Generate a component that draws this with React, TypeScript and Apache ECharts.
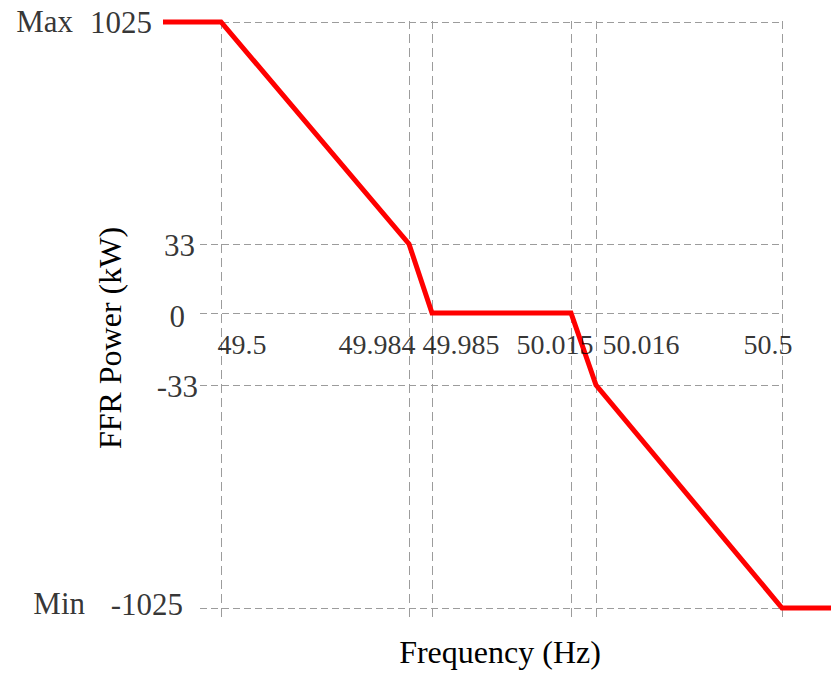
import React, { useEffect, useRef } from "react";
import * as echarts from "echarts";

// Breakpoint frequencies (Hz) shown on the horizontal axis
const frequencyLabels = ["49.5", "49.984", "49.985", "50.015", "50.016", "50.5"];
// The reference axis is schematic (not to scale): horizontal slot of each breakpoint
const frequencySlots = [21, 209, 232, 371, 396, 582];

// Power levels (kW) shown on the vertical axis
const powerLabels = ["1025", "33", "0", "-33", "-1025"];
const powerValues = [1025, 33, 0, -33, -1025];
// Schematic (not to scale) vertical slot of each power level
const powerSlots = [291, 69, 0, -72, -295];

const limitLabels = ["Max", "Min"];
const limitValues = [1025, -1025];

// FFR droop curve: frequency breakpoint (or lead-in / lead-out) and power
const curveFrequency = ["lead-in", "49.5", "49.984", "49.985", "50.015", "50.016", "50.5", "lead-out"];
const curvePower = [1025, 1025, 33, 0, 0, -33, -1025, -1025];
const leadSlots: Record<string, number> = { "lead-in": -37, "lead-out": 631 };

const FONT = "'Liberation Serif', 'Times New Roman', serif";

function xSlot(f: string): number {
  const i = frequencyLabels.indexOf(f);
  return i >= 0 ? frequencySlots[i] : leadSlots[f];
}
function ySlot(p: number): number {
  return powerSlots[powerValues.indexOf(p)];
}

export default function App() {
  const ref = useRef<HTMLDivElement>(null);

  useEffect(() => {
    if (!ref.current) return;
    const chart = echarts.init(ref.current, undefined, { renderer: "svg" });

    const curveData = curveFrequency.map((f, i) => [xSlot(f), ySlot(curvePower[i])]);
    const xFirst = frequencySlots[0] - 21;
    const xLast = frequencySlots[frequencySlots.length - 1];

    // label placement styles (offsets in px)
    const xLabelOffsets = [21, -32, 29, -16, 45, -14];
    const yLabelGaps = [48, 5, 15, 2, 17];
    const yLabelDy = [0, 1, 3, 1, -4];
    const limitGaps = [127, 115];
    const limitDy = [-1, -5];

    const hLineStyle = { type: [7, 4] as any, color: "#9c9c9c", width: 1 };
    const vLineStyle = { type: [9, 5] as any, color: "#9c9c9c", width: 1 };

    const option: echarts.EChartsOption = {
      animation: false,
      grid: { left: 150, right: 0, top: 21, bottom: 58 },
      xAxis: {
        type: "value",
        min: -50,
        max: 631,
        show: false,
      },
      yAxis: {
        type: "value",
        min: -304,
        max: 292,
        show: false,
      },
      graphic: [
        {
          type: "text",
          x: 500,
          y: 652,
          style: {
            text: "Frequency (Hz)",
            fontSize: 32,
            fontFamily: FONT,
            fill: "#000",
            align: "center",
            verticalAlign: "middle",
          },
        },
        {
          type: "text",
          x: 110,
          y: 338,
          rotation: Math.PI / 2,
          style: {
            text: "FFR Power (kW)",
            fontSize: 32,
            fontFamily: FONT,
            fill: "#000",
            align: "center",
            verticalAlign: "middle",
          },
        },
      ],
      series: [
        {
          type: "line",
          name: "grid",
          data: curveData,
          symbol: "none",
          lineStyle: { opacity: 0, width: 0 },
          silent: true,
          z: 1,
          markLine: {
            silent: true,
            symbol: "none",
            animation: false,
            label: { show: false },
            emphasis: { disabled: true },
            data: [
              ...frequencySlots.map((x) => ({ xAxis: x, lineStyle: vLineStyle })),
              ...powerSlots.map((y) => [
                { coord: [xFirst, y], lineStyle: hLineStyle },
                { coord: [xLast, y] },
              ]),
            ] as any,
          },
        },
        {
          type: "line",
          name: "FFR",
          data: curveData,
          symbol: "none",
          lineStyle: { color: "#ff0000", width: 5, join: "miter" },
          z: 5,
        },
        {
          type: "scatter",
          name: "freqLabels",
          symbolSize: 0,
          silent: true,
          z: 6,
          data: frequencyLabels.map((t, i) => ({
            value: [frequencySlots[i], 0],
            label: {
              show: true,
              formatter: t,
              position: "inside",
              offset: [xLabelOffsets[i], 31],
              fontSize: 28,
              fontFamily: FONT,
              color: "#000",
            },
          })),
        },
        {
          type: "scatter",
          name: "powerLabels",
          symbolSize: 0,
          silent: true,
          z: 6,
          data: [
            ...powerLabels.map((t, i) => ({
              value: [xFirst, powerSlots[i]],
              label: {
                show: true,
                formatter: t,
                position: "left",
                distance: 0,
                offset: [-yLabelGaps[i], yLabelDy[i]],
                fontSize: 31,
                fontFamily: FONT,
                color: "#000",
              },
            })),
            ...limitLabels.map((t, i) => ({
              value: [xFirst, ySlot(limitValues[i])],
              label: {
                show: true,
                formatter: t,
                position: "left",
                distance: 0,
                offset: [-limitGaps[i], limitDy[i]],
                fontSize: 31,
                fontFamily: FONT,
                color: "#000",
              },
            })),
          ],
        },
      ],
    };

    chart.setOption(option);
    return () => chart.dispose();
  }, []);

  return (
    <div
      ref={ref}
      style={{ position: "fixed", left: 0, top: 0, width: 831, height: 675, background: "#fff" }}
    />
  );
}
